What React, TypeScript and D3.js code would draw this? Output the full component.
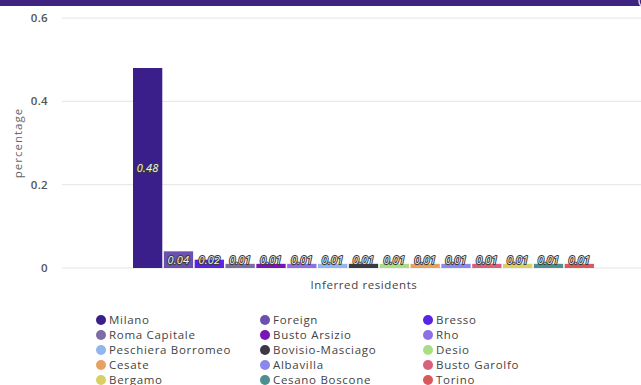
import React from "react";
import * as d3 from "d3";

const categories = ["Milano","Foreign","Bresso","Roma Capitale","Busto Arsizio","Rho","Peschiera Borromeo","Bovisio-Masciago","Desio","Cesate","Albavilla","Busto Garolfo","Bergamo","Cesano Boscone","Torino"];
const values = [0.48,0.04,0.02,0.01,0.01,0.01,0.01,0.01,0.01,0.01,0.01,0.01,0.01,0.01,0.01];
const labels = ["0.48","0.04","0.02","0.01","0.01","0.01","0.01","0.01","0.01","0.01","0.01","0.01","0.01","0.01","0.01"];
const colors = ["#3a1f8a","#6c50b0","#5a24e6","#7b6ca6","#7a14b6","#8f6fe6","#8fb6ee","#3b3a44","#a9df82","#e8a062","#8a88ee","#d8607e","#d9cf62","#4b8f8e","#d85a5a"];
const yTicks = [0, 0.2, 0.4, 0.6];

const FONT = "'Open Sans', sans-serif";

export default function App() {
  const W = 641, H = 385;
  const y = d3.scaleLinear().domain([0, 0.6]).range([268, 18]);
  const x = d3.scaleBand<string>().domain(categories).range([133, 594]).paddingInner(0.05).paddingOuter(0);
  const legendCols = [101, 265, 428];
  const legendRows = [320, 335, 350, 365, 380];
  return (
    <svg width={W} height={H} style={{ position: "absolute", left: 0, top: 0, background: "#fff" }} fontFamily={FONT}>
      <rect x={0} y={0} width={W} height={6} fill="#3f2380" />
      <circle cx={646} cy={1} r={7} fill="none" stroke="#d8d0ee" strokeWidth={1.5} />
      {yTicks.map((t) => (
        <g key={t}>
          <line x1={62} x2={W} y1={y(t)} y2={y(t)} stroke="#e4e4e4" strokeWidth={1} />
          <text x={48} y={y(t)} dy="0.35em" textAnchor="end" fontSize={11.5} fontWeight={600} fill="#555" letterSpacing={0.3}>{t === 0 ? "0" : String(t)}</text>
        </g>
      ))}
      <text transform={`translate(22,${143}) rotate(-90)`} textAnchor="middle" fontSize={11.5} fill="#666" letterSpacing={1}>percentage</text>
      {categories.map((c, i) => {
        const top = y(values[i]);
        const base = y(0);
        const cy = Math.min((top + base) / 2, base - 8);
        return (
          <g key={c}>
            <rect x={x(c)} y={top} width={x.bandwidth()} height={base - top} fill={colors[i]} />
            <text x={(x(c) as number) + x.bandwidth() / 2} y={cy} dy="0.35em" textAnchor="middle" fontSize={11} fontStyle="italic" letterSpacing={0.2}
              fill="#f2f2f2" stroke="#3a3a3a" strokeWidth={2} paintOrder="stroke" strokeLinejoin="round">{labels[i]}</text>
          </g>
        );
      })}
      <text x={364} y={285} dy="0.35em" textAnchor="middle" fontSize={11.5} fill="#444" letterSpacing={0.6}>Inferred residents</text>
      {categories.map((c, i) => {
        const col = i % 3, row = Math.floor(i / 3);
        return (
          <g key={"l" + c}>
            <circle cx={legendCols[col]} cy={legendRows[row]} r={5} fill={colors[i]} />
            <text x={legendCols[col] + 8} y={legendRows[row]} dy="0.35em" fontSize={11.5} fill="#444" letterSpacing={0.7}>{c}</text>
          </g>
        );
      })}
    </svg>
  );
}
